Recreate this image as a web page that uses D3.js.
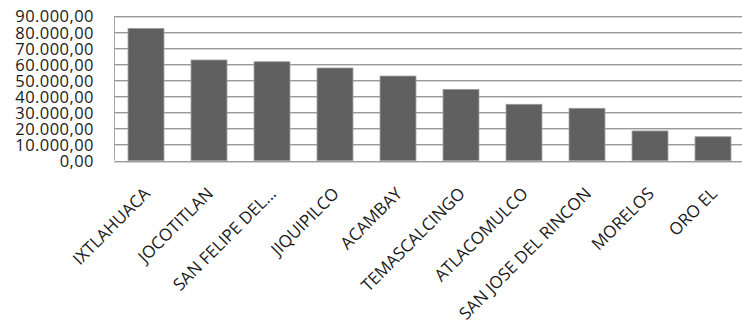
<!DOCTYPE html>
<html>
<head>
<meta charset="utf-8">
<script src="https://cdn.jsdelivr.net/npm/d3@7"></script>
<style>
  html, body { margin: 0; padding: 0; background: #fff; }
  svg { display: block; }
  text { font-family: "Open Sans", sans-serif; fill: #1a1a1a; }
</style>
</head>
<body>
<svg id="chart" width="742" height="329"></svg>
<script>
// Municipalities and their totals
const municipios = ["IXTLAHUACA", "JOCOTITLAN", "SAN FELIPE DEL...", "JIQUIPILCO", "ACAMBAY",
                    "TEMASCALCINGO", "ATLACOMULCO", "SAN JOSE DEL RINCON", "MORELOS", "ORO EL"];
const totales = [82200, 62600, 61500, 57600, 52600, 44300, 35000, 32500, 18400, 14800];
const yTicks = [0, 10000, 20000, 30000, 40000, 50000, 60000, 70000, 80000, 90000];

const svg = d3.select("#chart");
const plotLeft = 114.5, plotRight = 744.5, plotTop = 16, plotBottom = 160.5;

const x = d3.scaleBand().domain(municipios).range([plotLeft, plotRight])
  .paddingInner(0.43).paddingOuter(0.215);
const y = d3.scaleLinear().domain([0, 90000]).range([plotBottom, plotTop]);

// number format: 90.000,00
const fmt = d3.formatLocale({decimal: ",", thousands: ".", grouping: [3], currency: ["", ""]}).format(",.2f");

// gridlines (dark line with a light shadow beneath)
const grid = svg.append("g");
yTicks.forEach(t => {
  const gy = Math.round(y(t));
  grid.append("line").attr("x1", plotLeft).attr("x2", 742)
    .attr("y1", gy + 1.5).attr("y2", gy + 1.5)
    .attr("stroke", "#d4d4d4").attr("stroke-width", 1);
  grid.append("line").attr("x1", plotLeft).attr("x2", 742)
    .attr("y1", gy + 0.5).attr("y2", gy + 0.5)
    .attr("stroke", "#9a9a9a").attr("stroke-width", 1);
});
// left frame of plot area
svg.append("line").attr("x1", plotLeft).attr("x2", plotLeft).attr("y1", plotTop).attr("y2", plotBottom)
  .attr("stroke", "#a8a8a8");

// bars
svg.append("g").selectAll("rect").data(municipios).join("rect")
  .attr("x", d => x(d))
  .attr("width", x.bandwidth())
  .attr("y", (d, i) => y(totales[i]))
  .attr("height", (d, i) => y(0) - y(totales[i]))
  .attr("fill", "#606060")
  .attr("stroke", "#9a9a9a")
  .attr("stroke-width", 0.8);

// y axis labels
const yAxis = d3.axisLeft(y).tickValues(yTicks).tickFormat(fmt).tickSize(0).tickPadding(0);
const ya = svg.append("g").attr("transform", "translate(94,0)").call(yAxis);
ya.select(".domain").remove();
ya.selectAll("text").attr("font-family", "Open Sans, sans-serif").attr("font-size", 16.5)
  .attr("letter-spacing", 0.45)
  .attr("fill", "#1a1a1a").attr("dy", "0.36em");

// x axis labels, rotated
const xa = svg.append("g").attr("transform", `translate(0,${plotBottom})`)
  .call(d3.axisBottom(x).tickSize(0).tickPadding(0));
xa.select(".domain").remove();
xa.selectAll("text")
  .attr("font-family", "Open Sans, sans-serif").attr("font-size", 17).attr("fill", "#1a1a1a")
  .attr("text-anchor", "end")
  .attr("x", 0).attr("y", 0).attr("dy", "0.35em")
  .attr("transform", "translate(1,30) rotate(-45)");
</script>
</body>
</html>
